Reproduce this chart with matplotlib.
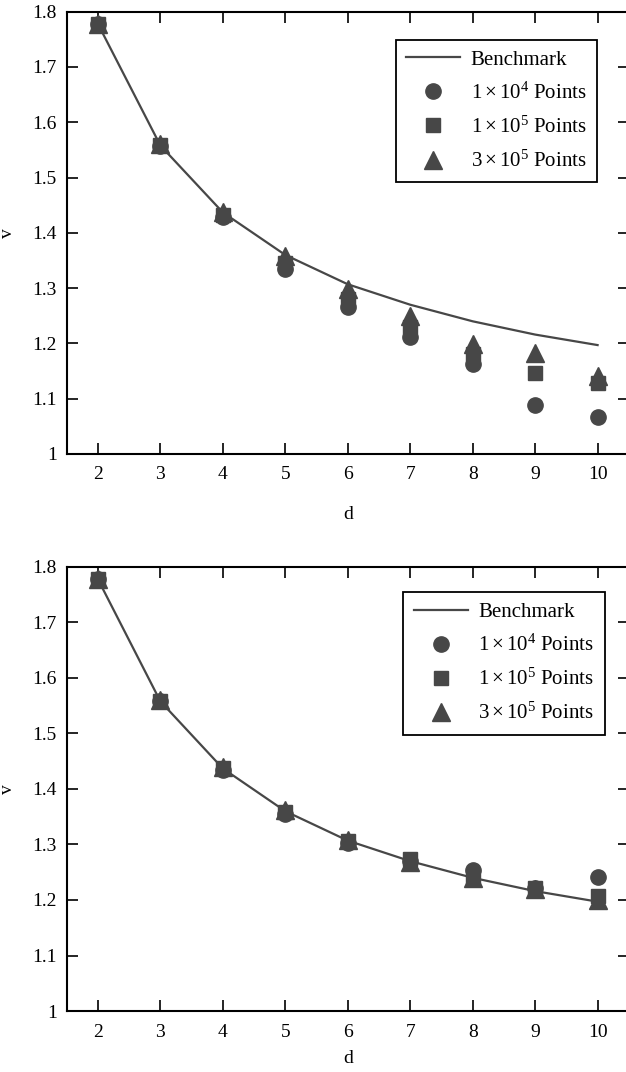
import matplotlib
matplotlib.use("Agg")
import matplotlib.pyplot as plt

plt.rcParams['font.family'] = ['Liberation Serif', 'DejaVu Serif']
plt.rcParams['mathtext.fontset'] = 'custom'
plt.rcParams['mathtext.rm'] = 'Liberation Serif'
plt.rcParams['mathtext.it'] = 'Liberation Serif:italic'

d = [2, 3, 4, 5, 6, 7, 8, 9, 10]
benchmark = [1.778, 1.558, 1.437, 1.360, 1.307, 1.270, 1.240, 1.216, 1.197]

# Top panel
top_1e4 = [1.778, 1.557, 1.428, 1.335, 1.265, 1.212, 1.162, 1.088, 1.067]
top_1e5 = [1.778, 1.558, 1.432, 1.345, 1.280, 1.230, 1.180, 1.146, 1.128]
top_3e5 = [1.778, 1.560, 1.438, 1.358, 1.299, 1.250, 1.199, 1.182, 1.141]

# Bottom panel
bot_1e4 = [1.778, 1.558, 1.435, 1.355, 1.302, 1.270, 1.254, 1.222, 1.241]
bot_1e5 = [1.778, 1.559, 1.437, 1.358, 1.306, 1.273, 1.241, 1.221, 1.208]
bot_3e5 = [1.778, 1.561, 1.440, 1.362, 1.308, 1.268, 1.240, 1.220, 1.200]

labels = ['Benchmark', r'$1\times10^4$ Points', r'$1\times10^5$ Points', r'$3\times10^5$ Points']
yticks = [1, 1.1, 1.2, 1.3, 1.4, 1.5, 1.6, 1.7, 1.8]
yticklabels = ['1', '1.1', '1.2', '1.3', '1.4', '1.5', '1.6', '1.7', '1.8']

col = '#474747'

fig = plt.figure(figsize=(6.26, 10.72), dpi=100)
ax1 = fig.add_axes([0.1065, 0.5765, 0.898, 0.4126])
ax2 = fig.add_axes([0.1065, 0.0569, 0.898, 0.4142])

def draw(ax, s1, s2, s3, anchor, xpad):
    ax.plot(d, benchmark, '-', color=col, lw=1.6, label=labels[0], zorder=2)
    ax.plot(d, s1, 'o', color=col, ms=11, ls='none', label=labels[1], zorder=3)
    ax.plot(d, s2, 's', color=col, ms=9.5, ls='none', label=labels[2], zorder=3)
    ax.plot(d, s3, '^', color=col, ms=13, ls='none', label=labels[3], zorder=3)
    ax.set_xlim(1.5, 10.5)
    ax.set_ylim(1, 1.8)
    ax.set_xticks(d)
    ax.set_xticklabels([str(v) for v in d])
    ax.set_yticks(yticks)
    ax.set_yticklabels(yticklabels)
    ax.tick_params(direction='in', length=8, width=1.2, top=True, right=True,
                   labelsize=14)
    ax.tick_params(axis='x', pad=9)
    ax.tick_params(axis='y', pad=7)
    for sp in ax.spines.values():
        sp.set_linewidth(1.5)
    ax.set_xlabel('d', fontsize=14, labelpad=xpad)
    ax.set_ylabel('v', fontsize=14, labelpad=12)
    leg = ax.legend(loc='upper right', bbox_to_anchor=anchor, fontsize=15,
                    frameon=True, fancybox=False, edgecolor='black', framealpha=1,
                    handlelength=2.6, borderpad=0.5, labelspacing=0.62,
                    handletextpad=0.5, borderaxespad=0)
    leg.get_frame().set_linewidth(1.3)

draw(ax1, top_1e4, top_1e5, top_3e5, (0.943, 0.937), 16.5)
draw(ax2, bot_1e4, bot_1e5, bot_3e5, (0.957, 0.944), 7)

fig.savefig('out.png', dpi=100)
